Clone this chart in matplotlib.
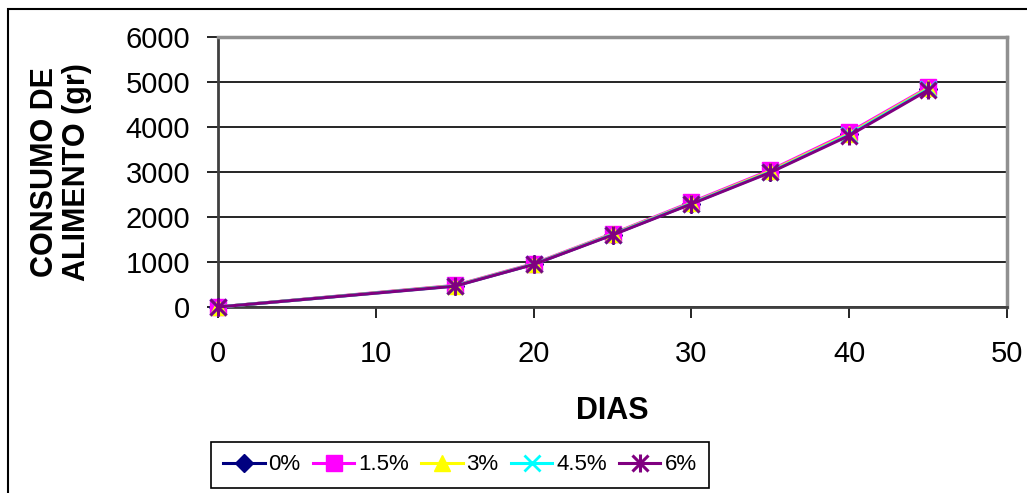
import matplotlib
matplotlib.use("Agg")
import matplotlib.pyplot as plt
from matplotlib.patches import Rectangle
from matplotlib.legend_handler import HandlerTuple

plt.rcParams['font.family'] = ['Liberation Sans', 'DejaVu Sans']

dias = [0, 15, 20, 25, 30, 35, 40, 45]
series_labels = ["0%", "1.5%", "3%", "4.5%", "6%"]
consumo_0 = [0, 470, 950, 1610, 2300, 3010, 3840, 4850]
consumo_15 = [0, 480, 965, 1630, 2330, 3040, 3880, 4880]
consumo_3 = [0, 472, 955, 1620, 2310, 3020, 3850, 4860]
consumo_45 = [0, 466, 950, 1610, 2300, 3000, 3830, 4840]
consumo_6 = [0, 462, 945, 1600, 2290, 2990, 3810, 4820]
x_ticks = [0, 10, 20, 30, 40, 50]
y_ticks = [0, 1000, 2000, 3000, 4000, 5000, 6000]

W, H = 1027, 493
fig = plt.figure(figsize=(W / 100, H / 100), dpi=100)

# outer chart frame
fig.patches.append(Rectangle((8 / W, -0.1), 1.2, 1 - 9 / H + 0.1,
                             transform=fig.transFigure, fill=False,
                             edgecolor="black", linewidth=1.5))

ax = fig.add_axes([218 / W, 1 - 307 / H, (1007 - 218) / W, (307 - 37) / H])

ms = 11
lw = 2.2
common = dict(linewidth=lw, clip_on=False, zorder=3)
h0, = ax.plot(dias, consumo_0, color="#000080", marker="D", markersize=ms - 2,
              **common)
h1, = ax.plot(dias, consumo_15, color="#FF00FF", marker="s", markersize=ms,
              **common)
h2, = ax.plot(dias, consumo_3, color="#FFFF00", marker="^", markersize=ms,
              **common)
h3, = ax.plot(dias, consumo_45, color="#00FFFF", marker="x", markersize=ms,
              markeredgewidth=2, **common)
h4a, = ax.plot(dias, consumo_6, color="#800080", marker="x", markersize=ms,
               markeredgewidth=2.2, **common)
h4b, = ax.plot(dias, consumo_6, color="#800080", marker="|", markersize=ms + 2,
               markeredgewidth=2.2, linestyle="none", clip_on=False, zorder=3)

ax.set_xlim(0, 50)
ax.set_ylim(0, 6000)
ax.set_xticks(x_ticks)
ax.set_yticks(y_ticks)
ax.yaxis.grid(True, color="black", linewidth=1.2)
ax.set_axisbelow(True)
for s in ["left", "bottom"]:
    ax.spines[s].set_color("#404040")
    ax.spines[s].set_linewidth(2)
for s in ["top", "right"]:
    ax.spines[s].set_color("#909090")
    ax.spines[s].set_linewidth(2.5)
ax.tick_params(axis="both", direction="out", length=8, width=1.2,
               color="black", labelsize=21)
ax.tick_params(axis="x", pad=16)
ax.tick_params(axis="y", pad=12)

ax.set_xlabel("DIAS", fontsize=22, fontweight="bold", labelpad=20)
fig.text(61 / W, 1 - 172 / H, "CONSUMO DE\nALIMENTO (gr)", rotation=90,
         fontsize=22, fontweight="bold", ha="center", va="center",
         linespacing=1.1)

leg = fig.legend([h0, h1, h2, h3, (h4a, h4b)], series_labels,
                 handler_map={tuple: HandlerTuple(ndivide=1)},
                 loc="center", bbox_to_anchor=(460 / W, 1 - 465 / H),
                 ncol=5, frameon=True, fancybox=False, fontsize=16,
                 edgecolor="black", framealpha=1, handlelength=1.85,
                 handletextpad=0.18, columnspacing=0.56, borderpad=0.55,
                 borderaxespad=0)
leg.get_frame().set_linewidth(1.2)

fig.savefig("out.png", dpi=100)
